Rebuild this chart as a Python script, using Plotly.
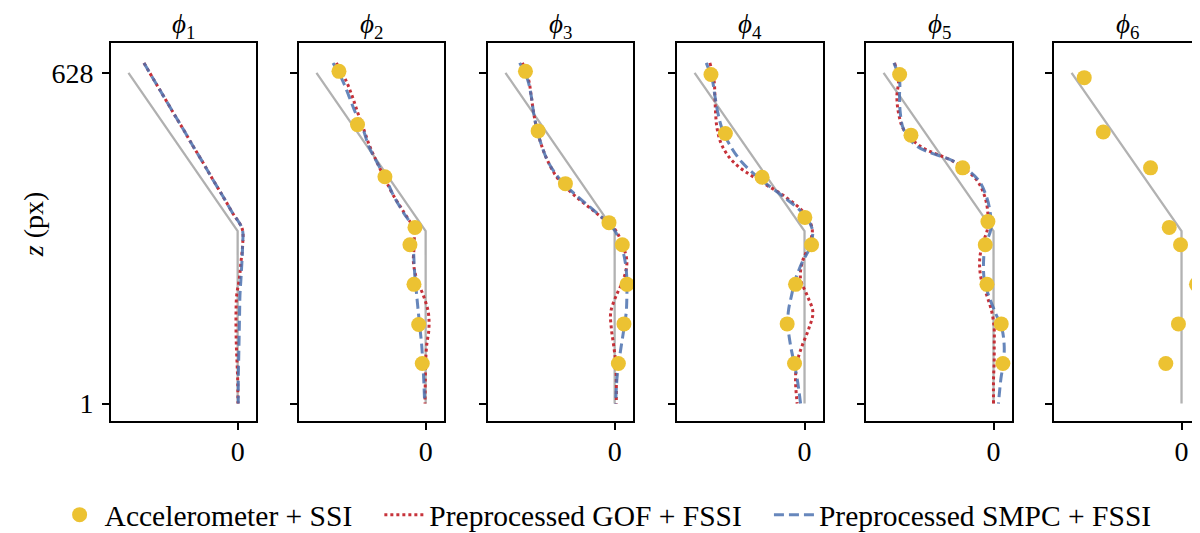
import plotly.graph_objects as go

# ---------------- data ----------------
PANELS = ["ϕ1", "ϕ2", "ϕ3", "ϕ4", "ϕ5", "ϕ6"]

# reference (gray) mode shape
Z_REF = [628, 328, 1]
X_REF = [-1.0, 0.0, 0.0]

# heights at which the FSSI curves were read
Z_CURVE = [647, 615, 584, 552, 521, 489, 458, 426, 395, 363, 332, 300,
           269, 237, 206, 174, 143, 111, 80, 48, 1]

GOF_1 = [-0.858, -0.768, -0.679, -0.588, -0.498, -0.408, -0.318, -0.228, -0.138, -0.048, 0.042, 0.045,
         0.030, 0.015, -0.009, -0.015, -0.015, -0.012, -0.006, 0.000, 0.003]
SMPC_1 = [-0.858, -0.768, -0.679, -0.588, -0.498, -0.408, -0.318, -0.228, -0.138, -0.048, 0.042, 0.045,
          0.039, 0.030, 0.021, 0.018, 0.015, 0.012, 0.009, 0.006, 0.006]

GOF_2 = [-0.818, -0.733, -0.673, -0.621, -0.567, -0.512, -0.445, -0.370, -0.294, -0.197, -0.112, -0.106,
         -0.112, -0.082, -0.021, 0.024, 0.030, 0.009, 0.000, -0.003, -0.006]
SMPC_2 = [-0.848, -0.764, -0.703, -0.642, -0.573, -0.521, -0.445, -0.361, -0.294, -0.203, -0.112, -0.112,
          -0.106, -0.097, -0.082, -0.067, -0.052, -0.036, -0.027, -0.018, -0.009]

GOF_3 = [-0.845, -0.788, -0.764, -0.742, -0.712, -0.667, -0.606, -0.515, -0.364, -0.173, 0.000, 0.076,
         0.112, 0.082, 0.015, -0.036, -0.030, -0.009, 0.009, 0.015, 0.015]
SMPC_3 = [-0.870, -0.797, -0.764, -0.742, -0.712, -0.667, -0.606, -0.500, -0.348, -0.167, -0.009, 0.061,
          0.097, 0.112, 0.112, 0.106, 0.085, 0.061, 0.039, 0.021, 0.009]

GOF_4 = [-0.861, -0.824, -0.815, -0.809, -0.794, -0.748, -0.642, -0.430, -0.188, -0.006, 0.070, 0.039,
         -0.021, -0.036, 0.024, 0.076, 0.039, -0.021, -0.067, -0.082, -0.067]
SMPC_4 = [-0.894, -0.839, -0.815, -0.788, -0.748, -0.673, -0.567, -0.400, -0.203, -0.021, 0.070, 0.055,
          -0.021, -0.082, -0.118, -0.148, -0.148, -0.127, -0.097, -0.067, -0.036]

GOF_5 = [-0.900, -0.864, -0.879, -0.864, -0.818, -0.667, -0.348, -0.158, -0.082, -0.052, -0.055, -0.106,
         -0.127, -0.112, -0.061, -0.015, 0.006, 0.006, 0.006, 0.000, 0.000]
SMPC_5 = [-0.906, -0.855, -0.855, -0.848, -0.818, -0.697, -0.339, -0.142, -0.067, -0.030, -0.024, -0.076,
          -0.091, -0.085, -0.045, 0.015, 0.076, 0.097, 0.091, 0.067, 0.045]

GOF = [GOF_1, GOF_2, GOF_3, GOF_4, GOF_5, None]
SMPC = [SMPC_1, SMPC_2, SMPC_3, SMPC_4, SMPC_5, None]

# accelerometer + SSI points (height, value)
Z_ACC_2 = [631, 530, 431, 335, 302, 227, 151, 77]
ACC_2 = [-0.794, -0.624, -0.373, -0.098, -0.144, -0.107, -0.064, -0.031]
Z_ACC_3 = [631, 518, 418, 344, 302, 227, 152, 77]
ACC_3 = [-0.817, -0.701, -0.451, -0.052, 0.070, 0.113, 0.085, 0.034]
Z_ACC_4 = [625, 513, 430, 354, 302, 227, 152, 77]
ACC_4 = [-0.851, -0.720, -0.386, 0.003, 0.064, -0.082, -0.158, -0.091]
Z_ACC_5 = [625, 510, 448, 346, 302, 227, 152, 77]
ACC_5 = [-0.854, -0.751, -0.281, -0.051, -0.075, -0.060, 0.070, 0.085]
Z_ACC_6 = [619, 516, 448, 335, 302, 227, 152, 77]
ACC_6 = [-0.885, -0.712, -0.282, -0.112, -0.009, 0.136, -0.028, -0.143]

Z_ACC = [None, Z_ACC_2, Z_ACC_3, Z_ACC_4, Z_ACC_5, Z_ACC_6]
ACC = [None, ACC_2, ACC_3, ACC_4, ACC_5, ACC_6]

Y_TICKS = [1, 628]
X_TICKS = [0]

LEGEND_NAMES = ["Accelerometer + SSI", "Preprocessed GOF + FSSI", "Preprocessed SMPC + FSSI"]

# ---------------- styling ----------------
W, H = 1200, 533
FONT = "Liberation Serif"
FS = 28
YELLOW = "#ECC232"
RED = "#C42830"
BLUE = "#4C72B0"
GRAY = "#B2B2B2"

LEFTS = [103, 291, 480, 669, 858, 1046]
RIGHTS = [248, 436, 625, 815, 1004, 1192]
TOP, BOTTOM = 35, 415
GAP = "\u2002\u2005"   # extra spacing after a legend entry

fig = go.Figure()
layout = {}
legend_done = {"acc": False, "gof": False, "smpc": False}

for i in range(6):
    k = "" if i == 0 else str(i + 1)
    xa, ya = "x" + k, "y" + k
    fig.add_trace(go.Scatter(x=X_REF, y=Z_REF, mode="lines",
                             line=dict(color=GRAY, width=2.3),
                             showlegend=False, xaxis=xa, yaxis=ya))
    if GOF[i] is not None:
        fig.add_trace(go.Scatter(x=GOF[i], y=Z_CURVE, mode="lines",
                                 name=LEGEND_NAMES[1] + GAP,
                                 line=dict(color=RED, width=3, dash="3px,3px", shape="spline"),
                                 opacity=0.95, legendrank=2,
                                 showlegend=not legend_done["gof"], xaxis=xa, yaxis=ya))
        legend_done["gof"] = True
    if SMPC[i] is not None:
        fig.add_trace(go.Scatter(x=SMPC[i], y=Z_CURVE, mode="lines",
                                 name=LEGEND_NAMES[2],
                                 line=dict(color=BLUE, width=3, dash="10px,5px", shape="spline"),
                                 opacity=0.85, legendrank=3,
                                 showlegend=not legend_done["smpc"], xaxis=xa, yaxis=ya))
        legend_done["smpc"] = True
    if ACC[i] is not None:
        fig.add_trace(go.Scatter(x=ACC[i], y=Z_ACC[i], mode="markers",
                                 name=LEGEND_NAMES[0] + GAP,
                                 marker=dict(color=YELLOW, size=15, line=dict(width=0)),
                                 legendrank=1,
                                 showlegend=not legend_done["acc"], xaxis=xa, yaxis=ya))
        legend_done["acc"] = True

    layout["xaxis" + k] = dict(
        domain=[LEFTS[i] / W, RIGHTS[i] / W], anchor=ya,
        range=[-1.16, 0.168], tickvals=X_TICKS, ticktext=["0"],
        ticks="outside", ticklen=7, tickwidth=1.5, tickcolor="black",
        showgrid=False, zeroline=False, showline=True, mirror=True,
        linecolor="black", linewidth=2, ticklabelstandoff=-3,
        tickfont=dict(family=FONT, size=FS, color="black"))
    layout["yaxis" + k] = dict(
        domain=[1 - BOTTOM / H, 1 - TOP / H], anchor=xa,
        range=[-33, 685], tickvals=Y_TICKS, ticktext=[str(v) for v in Y_TICKS],
        showticklabels=(i == 0),
        ticks="outside", ticklen=7, tickwidth=1.5, tickcolor="black",
        showgrid=False, zeroline=False, showline=True, mirror=True,
        linecolor="black", linewidth=2, ticklabelstandoff=3,
        tickfont=dict(family=FONT, size=FS, color="black"))

annotations = []
for i, name in enumerate(PANELS):
    cx = (LEFTS[i] + RIGHTS[i]) / 2 / W
    annotations.append(dict(x=cx, y=1.0, xref="paper", yref="paper",
                            text="<i>ϕ</i><sub>" + name[1:] + "</sub>", showarrow=False,
                            xanchor="center", yanchor="top", borderpad=0,
                            font=dict(family=FONT, size=27, color="black")))
annotations.append(dict(x=25 / W, y=1 - 217 / H, xref="paper", yref="paper",
                        text="<i>z</i> (px)", showarrow=False, textangle=-90,
                        xanchor="center", yanchor="middle",
                        font=dict(family=FONT, size=FS, color="black")))

fig.update_layout(
    **layout,
    width=W, height=H,
    margin=dict(l=0, r=0, t=0, b=0),
    paper_bgcolor="white", plot_bgcolor="white",
    annotations=annotations,
    font=dict(family=FONT, size=FS, color="black"),
    legend=dict(orientation="h", x=0.498, xanchor="center", y=1 - 509 / H, yanchor="middle",
                font=dict(family=FONT, size=29.5, color="black"),
                bgcolor="rgba(0,0,0,0)", itemwidth=40),
)

fig.write_html("out.html")
